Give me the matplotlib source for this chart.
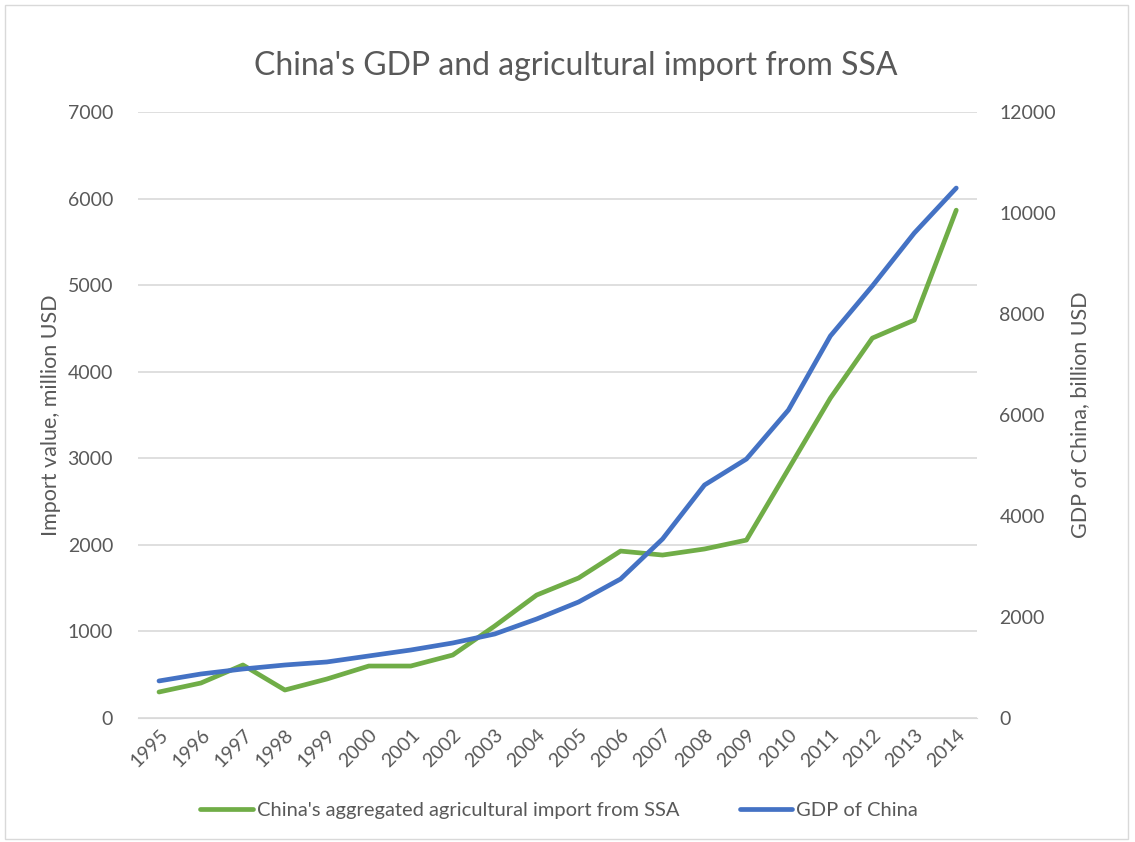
import matplotlib.pyplot as plt
from matplotlib.patches import Rectangle

plt.rcParams['font.family'] = ['Lato', 'DejaVu Sans']

# Data
years = [str(y) for y in range(1995, 2015)]
ag_import = [300, 404, 612, 323, 450, 600, 600, 727, 1062, 1420,
             1617, 1928, 1882, 1952, 2055, 2875, 3695, 4388, 4596, 5866]
gdp = [733, 871, 970, 1049, 1109, 1228, 1346, 1485, 1663, 1960,
       2297, 2752, 3544, 4613, 5128, 6098, 7564, 8554, 9603, 10494]

GREEN = '#70AD47'
BLUE = '#4472C4'
TEXT = '#595959'
GRID = '#D9D9D9'

fig = plt.figure(figsize=(11.35, 8.42), dpi=100)
ax = fig.add_axes([0.1216, 0.1473, 0.7394, 0.7197])
ax2 = ax.twinx()

x = list(range(len(years)))
l1, = ax.plot(x, ag_import, color=GREEN, lw=3.4, solid_capstyle='round',
              label="China's aggregated agricultural import from SSA", zorder=3)
l2, = ax2.plot(x, gdp, color=BLUE, lw=3.4, solid_capstyle='round',
               label='GDP of China', zorder=3)

ax.set_xlim(-0.5, len(years) - 0.5)
ax.set_ylim(0, 7000)
ax2.set_ylim(0, 12000)
ax.set_yticks(range(0, 7001, 1000))
ax2.set_yticks(range(0, 12001, 2000))
ax.grid(axis='y', color=GRID, lw=1.2)
ax.set_axisbelow(True)

ax.set_xticks(x)
ax.set_xticklabels(years, rotation=45, ha='right', rotation_mode='anchor')

for a in (ax, ax2):
    for s in a.spines.values():
        s.set_visible(False)
    a.tick_params(length=0, colors=TEXT, labelsize=14)
ax.spines['bottom'].set_visible(True)
ax.spines['bottom'].set_color(GRID)
ax.tick_params(axis='y', pad=18)
ax2.tick_params(axis='y', pad=16)
ax.tick_params(axis='x', pad=6)

ax.set_ylabel('Import value, million USD', color=TEXT, fontsize=15.5, labelpad=5)
ax2.set_ylabel('GDP of China, billion USD', color=TEXT, fontsize=15.5, labelpad=10)

fig.text(0.5075, 0.922, "China's GDP and agricultural import from SSA", color=TEXT,
         fontsize=23, ha='center', va='center')

fig.legend(handles=[l1, l2], loc='center', bbox_to_anchor=(0.4925, 0.037),
           ncol=2, frameon=False, fontsize=14.5, labelcolor=TEXT,
           handlelength=2.6, columnspacing=3, handletextpad=0.2)

fig.patches.append(Rectangle((0.004, 0.004), 0.99, 0.99, transform=fig.transFigure,
                             fill=False, edgecolor=GRID, lw=1))

fig.savefig('out.png', dpi=100)
